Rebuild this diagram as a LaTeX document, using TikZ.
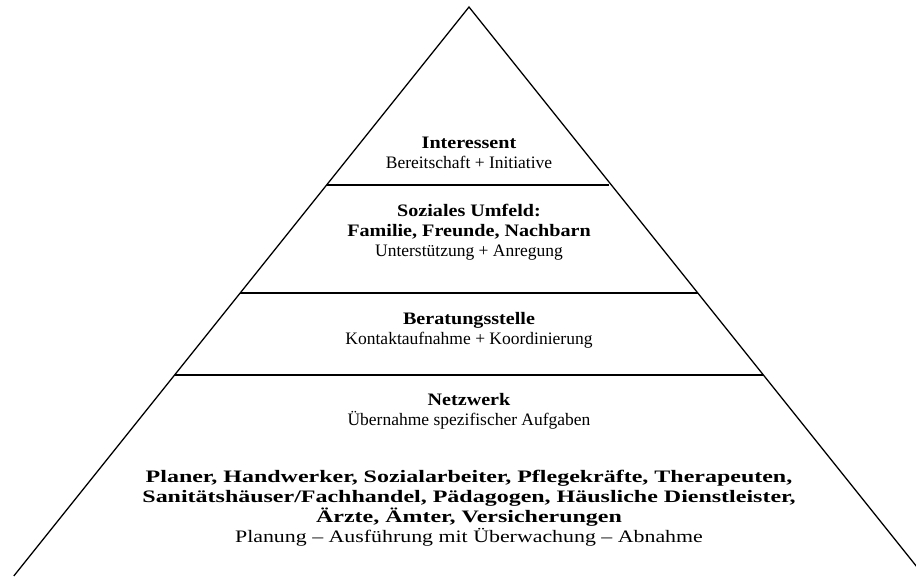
\documentclass[tikz,border=0pt]{standalone}
\usepackage{fontspec}
\setmainfont{Liberation Serif}
\newfontfamily\upbold{Liberation Serif Bold}[FakeStretch=1.15]
\newfontfamily\widereg{Liberation Serif}[FakeStretch=1.25]
\newfontfamily\widebold{Liberation Serif Bold}[FakeStretch=1.37]
\begin{document}
\begin{tikzpicture}[x=1pt,y=-1pt,
  edge/.style={line width=1.3pt,black},
  txt/.style={align=center,font=\fontsize{17.5}{20}\selectfont,inner sep=0pt}]
\useasboundingbox (0,0) rectangle (916,576);
\clip (0,0) rectangle (916,576);
\coordinate (apex) at (469,7);
\coordinate (bl) at (13.8,576);
\coordinate (br) at (924.2,576);
\coordinate (l1) at (326.6,185); \coordinate (r1) at (609,185);
\coordinate (l2) at (240.2,293); \coordinate (r2) at (697.8,293);
\coordinate (l3) at (174.6,375); \coordinate (r3) at (763.4,375);
\draw[edge,line join=miter] (bl) -- (apex) -- (br);
\draw[edge] (l1) -- (r1);
\draw[edge] (l2) -- (r2);
\draw[edge] (l3) -- (r3);
\node[txt] (t1) at (469,153) {{\upbold Interessent}\\Bereitschaft + Initiative};
\node[txt] (t2) at (469,232) {{\upbold Soziales Umfeld:}\\{\upbold Familie, Freunde, Nachbarn}\\Unterstützung + Anregung};
\node[txt] (t3) at (469,330) {{\upbold Beratungsstelle}\\Kontaktaufnahme + Koordinierung};
\node[txt] (t4) at (469,411) {{\upbold Netzwerk}\\Übernahme spezifischer Aufgaben};
\node[txt] (t5) at (469,508) {{\widebold Planer, Handwerker, Sozialarbeiter, Pflegekräfte, Therapeuten,}\\{\widebold Sanitätshäuser/Fachhandel, Pädagogen, Häusliche Dienstleister,}\\{\widebold Ärzte, Ämter, Versicherungen}\\{\widereg Planung – Ausführung mit Überwachung – Abnahme}};
\end{tikzpicture}
\end{document}
